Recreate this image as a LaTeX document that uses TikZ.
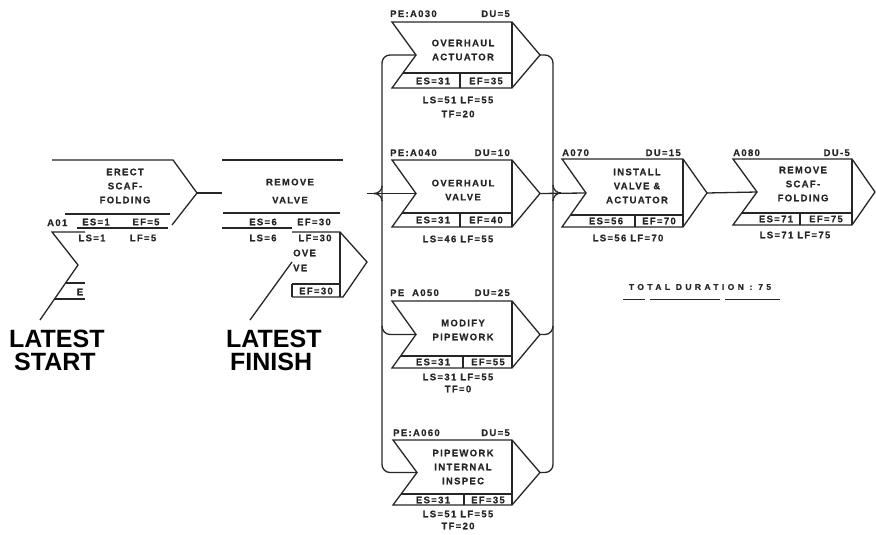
\documentclass[tikz,border=0pt]{standalone}
\usepackage{fontspec}
\setmainfont{Liberation Sans}
\newfontfamily\boxfont{Liberation Sans}[LetterSpace=14, BoldFeatures={FakeBold=0.6}]
\newfontfamily\totfont{Liberation Sans}[LetterSpace=40, BoldFeatures={FakeBold=0.6}]
\usetikzlibrary{calc}
\tikzset{
  boxline/.style={line width=1.3pt, draw=black!85, line join=miter},
  conn/.style={line width=1.3pt, draw=black!85},
  lbl/.style={font=\boxfont\bfseries\fontsize{9.5}{14}\selectfont, inner sep=0pt, text=black!85},
  ttl/.style={lbl, align=center},
  big/.style={font=\bfseries\fontsize{25}{28}\selectfont, inner sep=0pt, anchor=base west, text=black}
}
% #1 name, #2 xL, #3 yT, #4 xR, #5 yB, #6 yBand, #7 xDiv, #8 tip length
\newcommand\actbox[8]{%
  \pgfmathsetmacro\actym{(#3+#5)/2}%
  \pgfmathsetmacro\actxs{#2+24*(#5-#6)/(#5-\actym)}%
  \coordinate (#1-notch) at (#2+24,\actym);
  \coordinate (#1-tip) at (#4+#8,\actym);
  \draw[boxline] (#2,#3) -- (#4,#3) -- (#1-tip) -- (#4,#5) -- (#2,#5) -- (#1-notch) -- cycle;
  \draw[boxline] (#4,#3) -- (#4,#5);
  \draw[boxline] (\actxs,#6) -- (#4,#6);
  \draw[boxline] (#7,#6) -- (#7,#5);
}
\begin{document}
\begin{tikzpicture}[x=1pt,y=-1pt]
\useasboundingbox (0,0) rectangle (876,535);

% ---------------- A030
\actbox{A030}{392}{22}{512}{88}{73}{460}{28}
\node[lbl,anchor=base west] (A030-pe) at (390,17) {PE:A030};
\node[lbl,anchor=base east] (A030-du) at (510,17) {DU=5};
\node[ttl] (A030-t) at (463,50) {OVERHAUL\\ACTUATOR};
\node[lbl] (A030-es) at (433,81) {ES=31};
\node[lbl] (A030-ef) at (486,81) {EF=35};
\node[lbl] (A030-ls) at (458,100) {LS=51 LF=55};
\node[lbl] (A030-tf) at (458,114) {TF=20};

% ---------------- A040
\actbox{A040}{392}{160}{512}{227}{213}{460}{28}
\node[lbl,anchor=base west] (A040-pe) at (390,156) {PE:A040};
\node[lbl,anchor=base east] (A040-du) at (510,156) {DU=10};
\node[ttl] (A040-t) at (463,190) {OVERHAUL\\VALVE};
\node[lbl] (A040-es) at (433,220) {ES=31};
\node[lbl] (A040-ef) at (486,220) {EF=40};
\node[lbl] (A040-ls) at (458,239) {LS=46 LF=55};

% ---------------- A050
\actbox{A050}{392}{301}{512}{368}{356}{463}{28}
\node[lbl,anchor=base west] (A050-pe) at (390,296) {PE~~A050};
\node[lbl,anchor=base east] (A050-du) at (510,296) {DU=25};
\node[ttl] (A050-t) at (463,330) {MODIFY\\PIPEWORK};
\node[lbl] (A050-es) at (433,362) {ES=31};
\node[lbl] (A050-ef) at (488,362) {EF=55};
\node[lbl] (A050-ls) at (458,377) {LS=31 LF=55};
\node[lbl] (A050-tf) at (458,389) {TF=0};

% ---------------- A060
\actbox{A060}{393}{440}{512}{505}{494}{464}{28}
\node[lbl,anchor=base west] (A060-pe) at (393,436) {PE:A060};
\node[lbl,anchor=base east] (A060-du) at (510,436) {DU=5};
\node[ttl] (A060-t) at (463,467) {PIPEWORK\\INTERNAL\\INSPEC};
\node[lbl] (A060-es) at (433,500) {ES=31};
\node[lbl] (A060-ef) at (488,500) {EF=35};
\node[lbl] (A060-ls) at (458,514) {LS=51 LF=55};
\node[lbl] (A060-tf) at (458,526) {TF=20};

% ---------------- A070
\actbox{A070}{562}{159}{683}{227}{215}{635}{24}
\node[lbl,anchor=base west] (A070-pe) at (562,156) {A070};
\node[lbl,anchor=base east] (A070-du) at (681,156) {DU=15};
\node[ttl] (A070-t) at (637,186) {INSTALL\\VALVE \&\\ACTUATOR};
\node[lbl] (A070-es) at (606,221) {ES=56};
\node[lbl] (A070-ef) at (659,221) {EF=70};
\node[lbl] (A070-ls) at (628,238) {LS=56 LF=70};

% ---------------- A080
\actbox{A080}{733}{159}{852}{225}{213}{800}{23}
\node[lbl,anchor=base west] (A080-pe) at (733,156) {A080};
\node[lbl,anchor=base east] (A080-du) at (850,156) {DU-5};
\node[ttl] (A080-t) at (803,184) {REMOVE\\SCAF-\\FOLDING};
\node[lbl] (A080-es) at (776,219) {ES=71};
\node[lbl] (A080-ef) at (826,219) {EF=75};
\node[lbl] (A080-ls) at (795,235) {LS=71 LF=75};

% ---------------- total duration
\node[font=\totfont\bfseries\fontsize{8.5}{10}\selectfont, inner sep=0pt, text=black!85] (tot) at (700,287) {TOTAL DURATION : 75};
\coordinate (totu) at (0,299);
\draw[conn, line width=1pt] (623,0 |- totu) -- (645,0 |- totu);
\draw[conn, line width=1pt] (650,0 |- totu) -- (720,0 |- totu);
\draw[conn, line width=1pt] (725,0 |- totu) -- (780,0 |- totu);

% ---------------- buses and connectors
\coordinate (busL) at (382,0);
\coordinate (busR) at (553,0);
\coordinate (RV-out) at (367,193.5);
\draw[conn, rounded corners=8pt] (A030-notch) -- (A030-notch -| busL) -- (A060-notch -| busL) -- (A060-notch);
\draw[conn] (RV-out) -- (A040-notch);
\draw[conn] (374,193.5) to[out=0,in=-90] (382,186);
\draw[conn] (374,193.5) to[out=0,in=90] (382,201);
\draw[conn] (A050-notch) -- (390,334.5) to[out=180,in=-90] (382,326);

\draw[conn, rounded corners=8pt] (A030-tip) -- (A030-tip -| busR) -- (A060-tip -| busR) -- (A060-tip);
\draw[conn] (A040-tip) -- (A070-notch);
\draw[conn] (561,193) to[out=180,in=-90] (553,185);
\draw[conn] (561,193) to[out=180,in=90] (553,201);
\draw[conn] (A050-tip) -- (545,334.5) to[out=0,in=-90] (553,326);
\draw[conn] (A070-tip) -- (A080-notch);

% ---------------- left collage: ERECT SCAFFOLDING fragment
\coordinate (ER-tip) at (197,193);
\coordinate (RV-in) at (222,193);
\draw[boxline] (52,160) -- (173,160) -- (ER-tip) -- (172,225);
\draw[conn] (ER-tip) -- (RV-in);
\node[ttl] (ER-t) at (125,186) {ERECT\\SCAF-\\FOLDING};
\draw[boxline] (65,214) -- (170,214);
\draw[boxline] (77,228) -- (168,228);
\node[lbl,anchor=base west] (ER-id) at (47,226) {A01};
\node[lbl] (ER-es) at (96,222) {ES=1};
\node[lbl] (ER-ef) at (146,222) {EF=5};
\node[lbl] (ER-ls) at (92,238) {LS=1};
\node[lbl] (ER-lf) at (143,238) {LF=5};
\draw[boxline] (85,232) -- (52,232) -- (78,265) -- (40,320);
\draw[boxline] (65,283) -- (85,283);
\draw[boxline] (54,299) -- (85,299);
\node[lbl] (ER-e) at (80,292) {E};

% ---------------- left collage: REMOVE VALVE fragment
\draw[boxline] (222,160) -- (343,160);
\node[ttl, font=\boxfont\bfseries\fontsize{9.5}{18}\selectfont] (RV-t) at (290,191) {REMOVE\\VALVE};
\draw[boxline] (223,213) -- (340,213);
\node[lbl] (RV-es) at (263,222) {ES=6};
\node[lbl] (RV-ef) at (314,222) {EF=30};
\draw[boxline] (222,228) -- (292,228);
\node[lbl] (RV-ls) at (263,238) {LS=6};
\node[lbl] (RV-lf) at (315,238) {LF=30};
\draw[boxline] (292,232) -- (340,232) -- (367,262) -- (343,297) -- (292,297);
\draw[boxline] (340,232) -- (340,297);
\draw[boxline] (292,284) -- (340,284);
\draw[boxline] (292,284) -- (292,297);
\node[lbl] (RV-ef2) at (316,291) {EF=30};
\node[lbl,anchor=west] (RV-ove) at (293,253) {OVE};
\node[lbl,anchor=west] (RV-ve) at (293,268) {VE};
\draw[boxline] (292,262) -- (250,320);

% ---------------- captions
\node[big] (cap1a) at (9,347) {LATEST};
\node[big] (cap1b) at (14,370) {START};
\node[big] (cap2a) at (226,347) {LATEST};
\node[big] (cap2b) at (230,370) {FINISH};
\end{tikzpicture}
\end{document}
